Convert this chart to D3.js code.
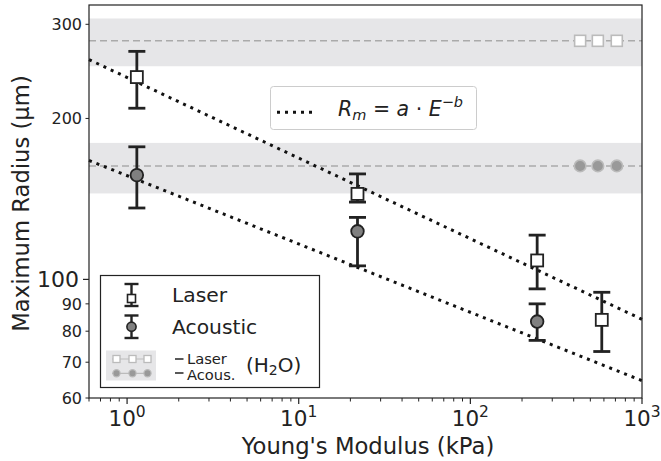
<!DOCTYPE html>
<html><head><meta charset="utf-8">
<script src="https://cdn.jsdelivr.net/npm/d3@7"></script>
<style>body{margin:0;background:#fff}svg{display:block}text{font-family:"DejaVu Sans",sans-serif;fill:#222}</style>
</head><body><svg id="c" width="661" height="461"></svg>
<script>
// ---- data ----
const laserE = [1.14, 22, 245, 583];
const laserR = [239, 144.5, 108.5, 84];
const laserLo = [209, 139.5, 96, 73.3];
const laserHi = [267, 157.5, 121, 94.6];
const acousE = [1.14, 22, 245];
const acousR = [156.7, 123, 83.4];
const acousLo = [136, 106, 76.9];
const acousHi = [177, 130.6, 90];
const waterLaser = {mean: 279.4, lo: 250.4, hi: 307.6};
const waterAcous = {mean: 163, lo: 144.8, hi: 180};
const waterMarkE = [436, 553, 713];
const fitLaserE = [0.6, 1000];
const fitLaserR = [257.7, 84.2];
const fitAcousE = [0.6, 1000];
const fitAcousR = [166.9, 64.65];
const xMajor = [1, 10, 100, 1000];
const xMajorExp = ["0", "1", "2", "3"];
const yMajor = [100];
const yMinor = [60, 70, 80, 90, 200, 300];

// ---- layout ----
const W = 661, H = 461, m = {l: 89, r: 19, t: 5, b: 63};
const svg = d3.select("#c");
const x = d3.scaleLog().domain([0.6, 1000]).range([m.l, W - m.r]);
const y = d3.scaleLog().domain([60, 326]).range([H - m.b, m.t]);
const ink = "#222";
const bandCol = "#e6e6e8", waterLine = "#aaaaaa";

// bands
[waterLaser, waterAcous].forEach(w => {
  svg.append("rect").attr("x", m.l).attr("width", W - m.r - m.l)
    .attr("y", y(w.hi)).attr("height", y(w.lo) - y(w.hi)).attr("fill", bandCol);
  svg.append("line").attr("x1", m.l).attr("x2", W - m.r).attr("y1", y(w.mean)).attr("y2", y(w.mean))
    .attr("stroke", waterLine).attr("stroke-width", 1.6).attr("stroke-dasharray", "7,4");
});
// water markers
svg.selectAll(".wsq").data(waterMarkE).enter().append("rect")
  .attr("x", d => x(d) - 5.5).attr("y", y(waterLaser.mean) - 5.5).attr("width", 11).attr("height", 11)
  .attr("fill", "#fff").attr("stroke", "#bbbbbb").attr("stroke-width", 1.6);
svg.selectAll(".wci").data(waterMarkE).enter().append("circle")
  .attr("cx", d => x(d)).attr("cy", y(waterAcous.mean)).attr("r", 5.8)
  .attr("fill", "#999999").attr("stroke", "#bbbbbb").attr("stroke-width", 1.6);

// fit lines
const line = d3.line().x(d => x(d[0])).y(d => y(d[1]));
[[fitLaserE, fitLaserR], [fitAcousE, fitAcousR]].forEach(([e, r]) => {
  svg.append("path").attr("d", line(e.map((v, i) => [v, r[i]])))
    .attr("fill", "none").attr("stroke", "#111").attr("stroke-width", 3).attr("stroke-dasharray", "3,5");
});

// error bars
function errbars(E, lo, hi) {
  E.forEach((e, i) => {
    const g = svg.append("g").attr("stroke", ink).attr("stroke-width", 2.8);
    g.append("line").attr("x1", x(e)).attr("x2", x(e)).attr("y1", y(lo[i])).attr("y2", y(hi[i]));
    g.append("line").attr("x1", x(e) - 8.5).attr("x2", x(e) + 8.5).attr("y1", y(lo[i])).attr("y2", y(lo[i]));
    g.append("line").attr("x1", x(e) - 8.5).attr("x2", x(e) + 8.5).attr("y1", y(hi[i])).attr("y2", y(hi[i]));
  });
}
errbars(laserE, laserLo, laserHi);
errbars(acousE, acousLo, acousHi);
svg.selectAll(".lsq").data(laserE).enter().append("rect")
  .attr("x", (d) => x(d) - 6).attr("y", (d, i) => y(laserR[i]) - 6).attr("width", 12).attr("height", 12)
  .attr("fill", "#fff").attr("stroke", ink).attr("stroke-width", 1.8);
svg.selectAll(".aci").data(acousE).enter().append("circle")
  .attr("cx", d => x(d)).attr("cy", (d, i) => y(acousR[i])).attr("r", 6.3)
  .attr("fill", "#808080").attr("stroke", ink).attr("stroke-width", 1.8);

// frame
svg.append("rect").attr("x", m.l).attr("y", m.t).attr("width", W - m.r - m.l).attr("height", H - m.b - m.t)
  .attr("fill", "none").attr("stroke", ink).attr("stroke-width", 1.2);

// x axis
const xMinor = [];
[0.1, 1, 10, 100].forEach(d => { for (let k = 2; k <= 9; k++) { const v = d * k; if (v >= 0.6 && v < 1000) xMinor.push(v); } });
const xb = H - m.b;
xMinor.forEach(v => svg.append("line").attr("x1", x(v)).attr("x2", x(v)).attr("y1", xb).attr("y2", xb + 3.5).attr("stroke", ink).attr("stroke-width", 1));
xMajor.forEach((v, i) => {
  svg.append("line").attr("x1", x(v)).attr("x2", x(v)).attr("y1", xb).attr("y2", xb + 6).attr("stroke", ink).attr("stroke-width", 1.2);
  const t = svg.append("text").attr("x", x(v)).attr("y", 426).attr("text-anchor", "middle").attr("font-size", 21.5);
  t.append("tspan").text("10");
  t.append("tspan").attr("dy", -9).attr("font-size", 15.5).text(xMajorExp[i]);
});
svg.append("text").attr("x", 368).attr("y", 454).attr("text-anchor", "middle").attr("font-size", 22.7).text("Young's Modulus (kPa)");

// y axis
yMinor.forEach(v => {
  svg.append("line").attr("x1", m.l).attr("x2", m.l - 3.5).attr("y1", y(v)).attr("y2", y(v)).attr("stroke", ink).attr("stroke-width", 1);
  svg.append("text").attr("x", 82).attr("y", y(v)).attr("dy", "0.36em").attr("text-anchor", "end").attr("font-size", 16).text(v);
});
yMajor.forEach(v => {
  svg.append("line").attr("x1", m.l).attr("x2", m.l - 6).attr("y1", y(v)).attr("y2", y(v)).attr("stroke", ink).attr("stroke-width", 1.2);
  svg.append("text").attr("x", 79).attr("y", y(v)).attr("dy", "0.36em").attr("text-anchor", "end").attr("font-size", 22).text(v);
});
svg.append("text").attr("transform", "translate(29,203.5) rotate(-90)").attr("text-anchor", "middle").attr("font-size", 22.7).text("Maximum Radius (µm)");

// legend 1
const L = svg.append("g");
L.append("rect").attr("x", 100.5).attr("y", 275.5).attr("width", 219).attr("height", 112).attr("fill", "#fff").attr("stroke", ink).attr("stroke-width", 1.2);
function legErr(cx, cy1, cy2) {
  const g = L.append("g").attr("stroke", ink).attr("stroke-width", 2.4);
  g.append("line").attr("x1", cx).attr("x2", cx).attr("y1", cy1).attr("y2", cy2);
  g.append("line").attr("x1", cx - 7).attr("x2", cx + 7).attr("y1", cy1).attr("y2", cy1);
  g.append("line").attr("x1", cx - 7).attr("x2", cx + 7).attr("y1", cy2).attr("y2", cy2);
}
legErr(131.5, 284, 306);
L.append("rect").attr("x", 127.5).attr("y", 294.5).attr("width", 8).attr("height", 8).attr("fill", "#fff").attr("stroke", ink).attr("stroke-width", 1.6);
L.append("text").attr("x", 172).attr("y", 295).attr("dy", "0.36em").attr("font-size", 20.3).text("Laser");
legErr(131.5, 315.5, 338);
L.append("circle").attr("cx", 131.5).attr("cy", 326.7).attr("r", 4.6).attr("fill", "#808080").attr("stroke", ink).attr("stroke-width", 1.6);
L.append("text").attr("x", 172).attr("y", 326.7).attr("dy", "0.36em").attr("font-size", 20.3).text("Acoustic");
// water legend patch
L.append("rect").attr("x", 106).attr("y", 350.5).attr("width", 50).attr("height", 30).attr("fill", bandCol);
const pxs = [116.5, 132.5, 147.5];
L.append("line").attr("x1", 112).attr("x2", 151).attr("y1", 359).attr("y2", 359).attr("stroke", "#bbb").attr("stroke-width", 1.2);
L.append("line").attr("x1", 112).attr("x2", 151).attr("y1", 373.3).attr("y2", 373.3).attr("stroke", "#bbb").attr("stroke-width", 1.2);
pxs.forEach(px => {
  L.append("rect").attr("x", px - 3.5).attr("y", 355.5).attr("width", 7).attr("height", 7).attr("fill", "#fff").attr("stroke", "#bbb").attr("stroke-width", 1.3);
  L.append("circle").attr("cx", px).attr("cy", 373.3).attr("r", 3.6).attr("fill", "#999").attr("stroke", "#bbb").attr("stroke-width", 1.2);
});
L.append("line").attr("x1", 175).attr("x2", 183.5).attr("y1", 359).attr("y2", 359).attr("stroke", ink).attr("stroke-width", 1.5);
L.append("line").attr("x1", 175).attr("x2", 183.5).attr("y1", 373).attr("y2", 373).attr("stroke", ink).attr("stroke-width", 1.5);
L.append("text").attr("x", 187).attr("y", 364).attr("font-size", 14.7).text("Laser");
L.append("text").attr("x", 187).attr("y", 379.5).attr("font-size", 14.7).text("Acous.");
const h2o = L.append("text").attr("x", 246).attr("y", 371.5).attr("font-size", 20);
h2o.append("tspan").text("(H");
h2o.append("tspan").attr("font-size", 14).attr("dy", 3).text("2");
h2o.append("tspan").attr("dy", -3).text("O)");

// legend 2 (fit)
const F = svg.append("g");
F.append("rect").attr("x", 270.5).attr("y", 86.5).attr("width", 206).attr("height", 43).attr("rx", 3).attr("fill", "#fff").attr("stroke", "#cccccc").attr("stroke-width", 1);
F.append("line").attr("x1", 277).attr("x2", 313).attr("y1", 112.3).attr("y2", 112.3).attr("stroke", "#111").attr("stroke-width", 3).attr("stroke-dasharray", "3,5");
const eq = F.append("text").attr("x", 338).attr("y", 116).attr("font-size", 20.5);
eq.append("tspan").attr("font-style", "italic").text("R");
eq.append("tspan").attr("font-style", "italic").attr("font-size", 14.5).attr("dy", 4).text("m");
eq.append("tspan").attr("dy", -4).text(" = ");
eq.append("tspan").attr("font-style", "italic").text("a");
eq.append("tspan").text(" · ");
eq.append("tspan").attr("font-style", "italic").text("E");
eq.append("tspan").attr("font-size", 14.5).attr("dy", -9).text("−");
eq.append("tspan").attr("font-size", 14.5).attr("font-style", "italic").text("b");
</script></body></html>
